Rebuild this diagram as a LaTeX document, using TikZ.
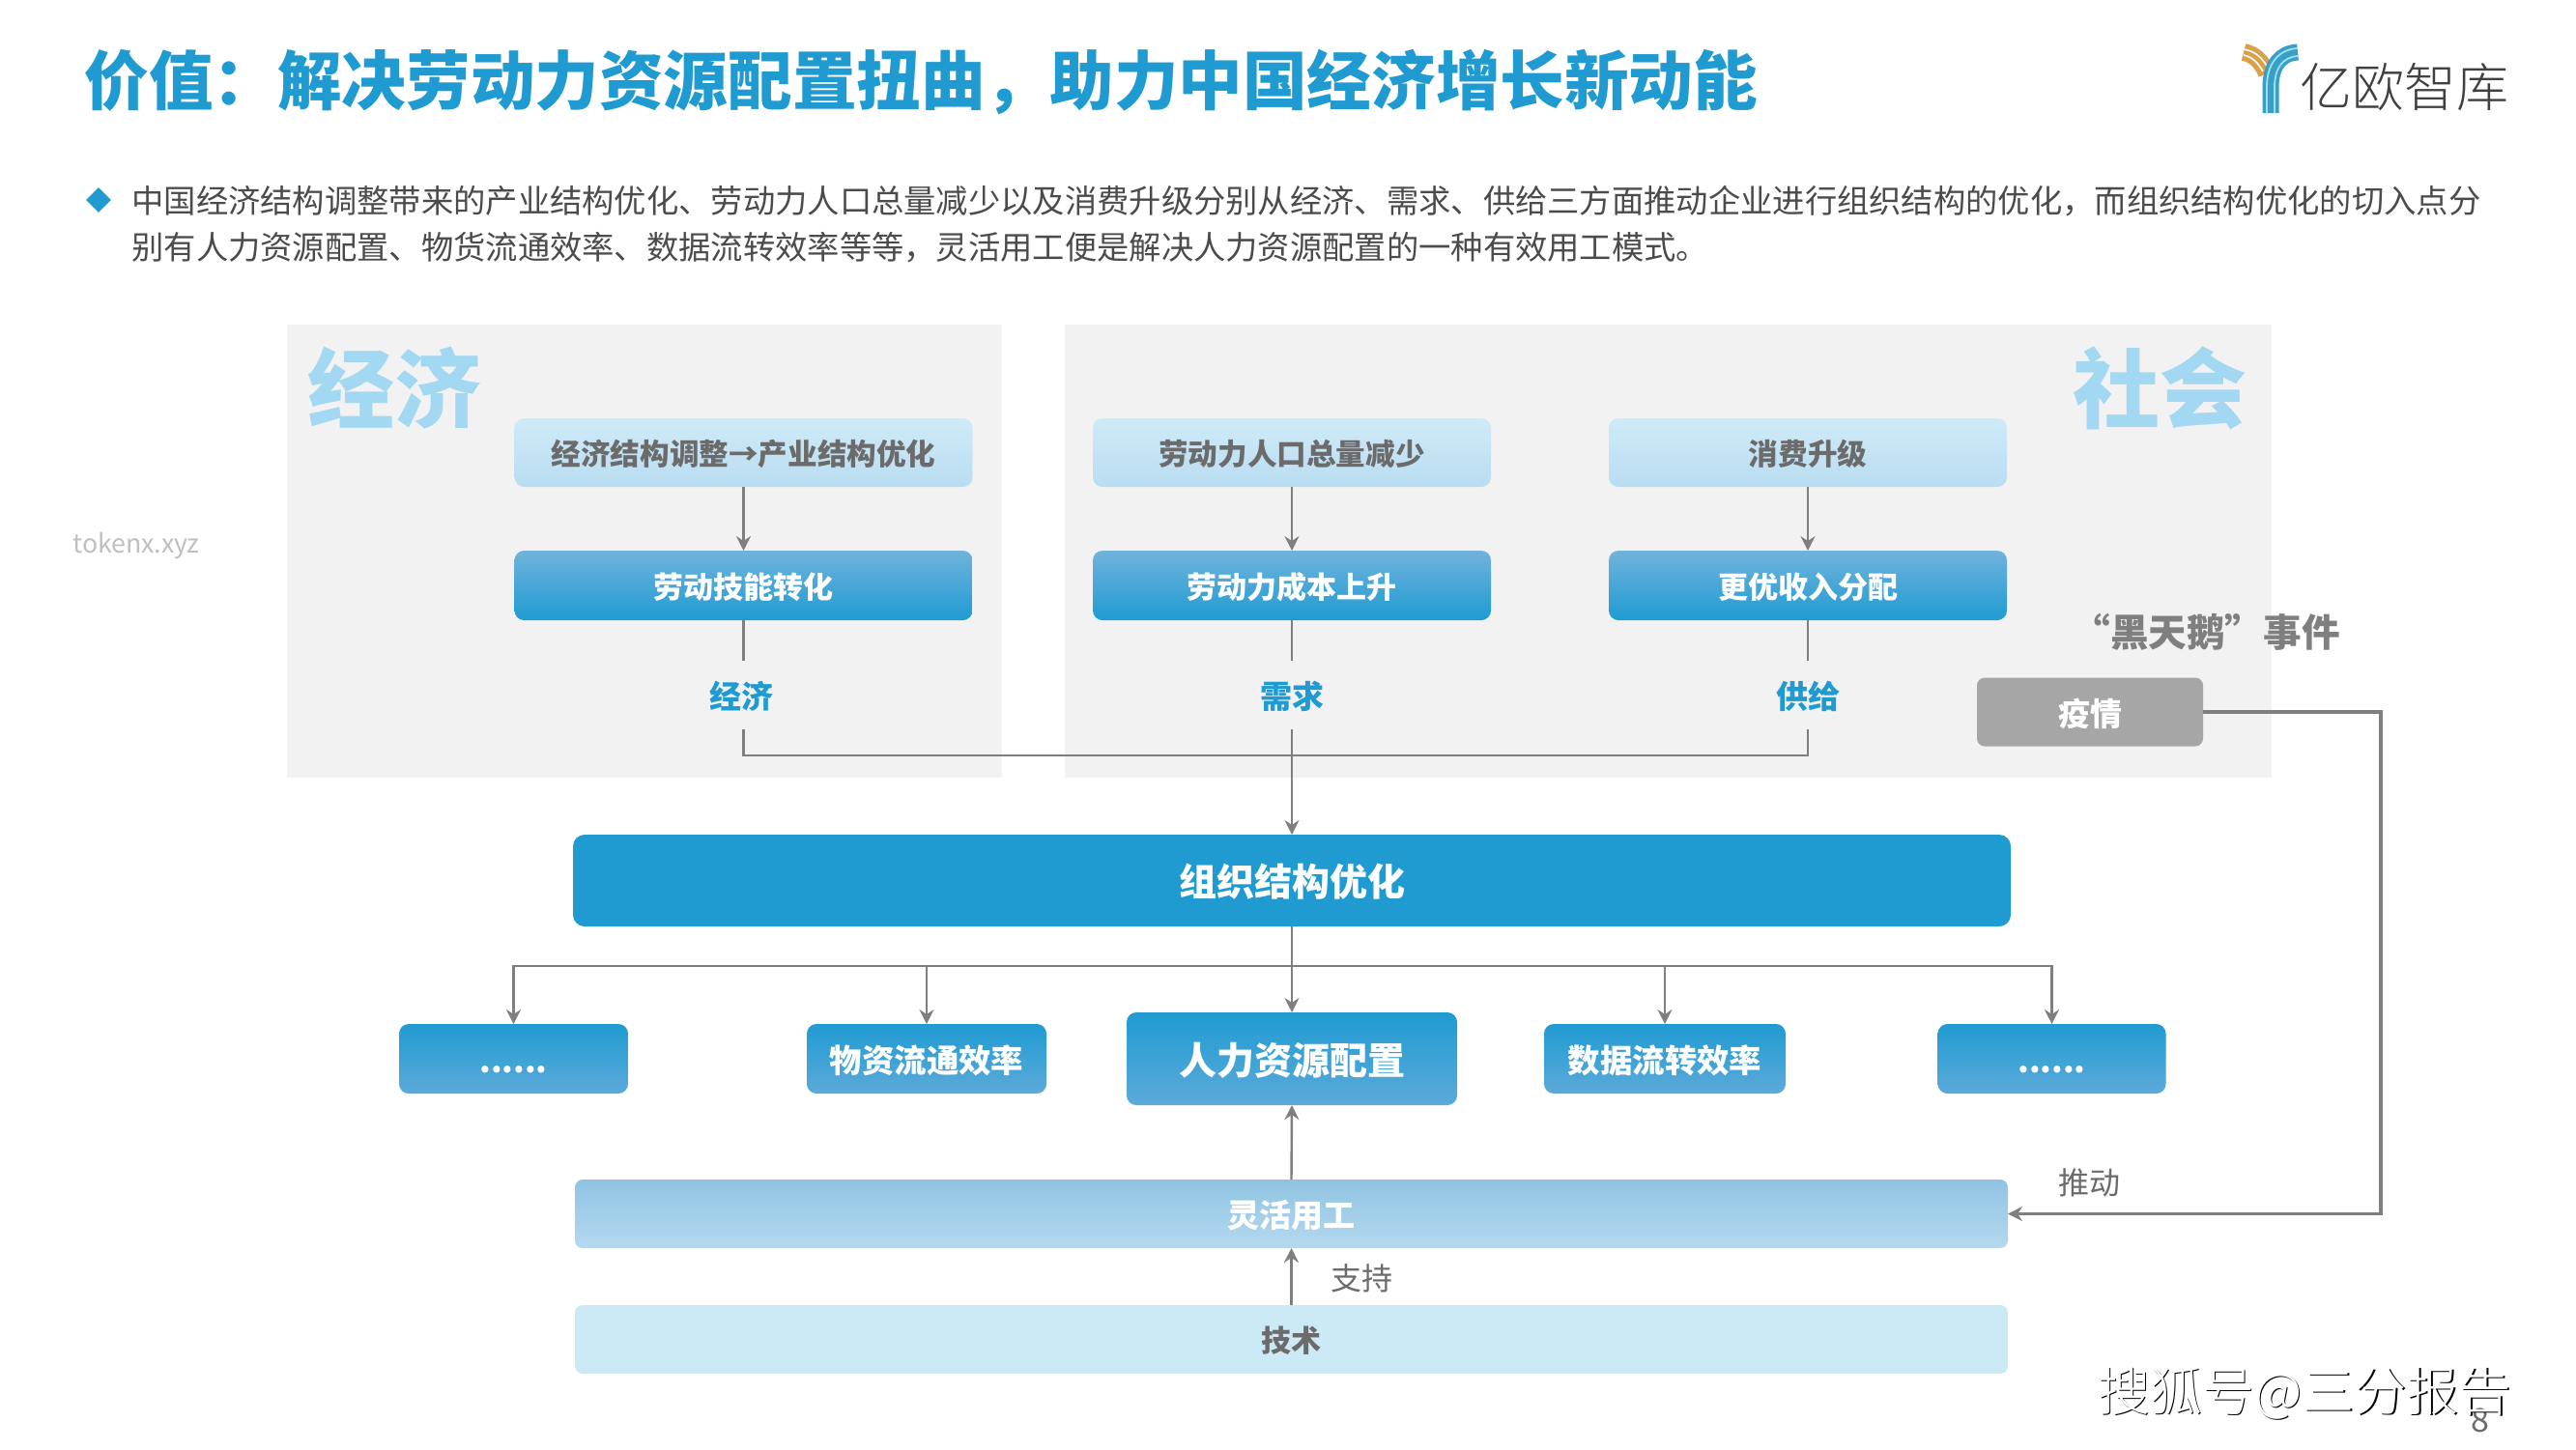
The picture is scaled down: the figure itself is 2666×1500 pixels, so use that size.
\documentclass[tikz,border=0pt]{standalone}
\usepackage{fontspec}
\setmainfont{Noto Sans CJK SC}
\newfontfamily\lightcjk{Noto Sans CJK SC Light}
\usetikzlibrary{arrows.meta,shapes.geometric}
\definecolor{brand}{HTML}{1F9BD2}
\definecolor{txtgray}{HTML}{6B6B6B}
\definecolor{linegray}{HTML}{7F7F7F}
\definecolor{panelgray}{HTML}{F2F2F2}
\definecolor{bigblue}{HTML}{A3D8F2}
\definecolor{CFEAF7}{HTML}{CFEAF7}
\definecolor{B9DDF1}{HTML}{B9DDF1}
\definecolor{70B3DC}{HTML}{70B3DC}
\definecolor{1F9BD2}{HTML}{1F9BD2}
\definecolor{5CAAD9}{HTML}{5CAAD9}
\definecolor{A6A6A6}{HTML}{A6A6A6}
\definecolor{90C3E2}{HTML}{90C3E2}
\definecolor{B4D9EF}{HTML}{B4D9EF}
\definecolor{CCE9F6}{HTML}{CCE9F6}
\definecolor{logoblue}{HTML}{3A9FC6}
\definecolor{logocyan}{HTML}{9BE0F2}
\definecolor{logoorange}{HTML}{DDA04A}
\tikzset{
  x=0.5pt,y=-0.5pt,
  base/.style={inner sep=0pt,outer sep=0pt,align=center,font=\bfseries},
  sz/.style 2 args={minimum width=#1*0.5pt,minimum height=#2*0.5pt},
  fs/.style={font=\fontsize{#1}{#1}\selectfont\bfseries,text height=#1*0.86pt+1.6pt,text depth=#1*0.1pt},
  lightbox/.style={base,rounded corners=5pt,top color=CFEAF7,bottom color=B9DDF1,text=txtgray,fs=15.3},
  midbox/.style={base,rounded corners=5pt,top color=70B3DC,bottom color=1F9BD2,text=white,fs=15.5},
  rowbox/.style={base,rounded corners=5pt,top color=1F9BD2,bottom color=5CAAD9,text=white,fs=16.7},
  orgbox/.style={base,rounded corners=6pt,fill=brand,text=white,fs=19.5},
  swanbox/.style={base,rounded corners=4pt,fill=A6A6A6,text=white,fs=16.5},
  flexbox/.style={base,rounded corners=4pt,top color=90C3E2,bottom color=B4D9EF,text=white,fs=16.5},
  techbox/.style={base,rounded corners=4pt,fill=CCE9F6,text=txtgray,fs=15.5},
  cat/.style={base,text=brand,fs=16.5},
  bigword/.style={base,text=bigblue,fs=45},
  conn/.style={draw=linegray,line width=1.2pt},
  arr/.style={conn,-{Stealth[length=7.5pt,width=7.5pt,inset=2.5pt]}},
  note/.style={inner sep=0pt,text=txtgray,font=\fontsize{16}{16}\selectfont},
  bodyline/.style={inner sep=0pt,anchor=west,text=txtgray!70!black,font=\fontsize{16.65}{16.65}\selectfont},
}
\begin{document}
\begin{tikzpicture}
\useasboundingbox (0,0) rectangle (2666,1500);
\fill[white] (0,0) rectangle (2666,1500);
% panels
\fill[panelgray] (297,336) rectangle (1037,805);
\fill[panelgray] (1102,336) rectangle (2351,805);
% title and intro
\node[inner sep=0pt,anchor=west,text=brand,font=\fontsize{33.3}{33.3}\selectfont\bfseries] (title) at (87,85) {价值：解决劳动力资源配置扭曲，助力中国经济增长新动能};
\node[diamond,fill=brand,inner sep=0pt,minimum width=13pt,minimum height=13pt] (bullet) at (102,207) {};
\node[bodyline] (l1) at (136,208) {中国经济结构调整带来的产业结构优化、劳动力人口总量减少以及消费升级分别从经济、需求、供给三方面推动企业进行组织结构的优化，而组织结构优化的切入点分};
\node[bodyline] (l2) at (136,256) {别有人力资源配置、物货流通效率、数据流转效率等等，灵活用工便是解决人力资源配置的一种有效用工模式。};
% logo
\draw[logoorange,line width=9pt] (2322,54) .. controls (2332,56) and (2340,62) .. (2346,76);
\draw[white,line width=0.8pt] (2322,51) .. controls (2334,53) and (2342,60) .. (2348,72);
\draw[white,line width=0.8pt] (2322,57) .. controls (2331,59) and (2337,65) .. (2342,74);
\draw[logoblue,line width=8.5pt] (2378,54) .. controls (2360,55) and (2350,68) .. (2350,90) -- (2350,117);
\draw[logocyan,line width=0.9pt] (2378,50) .. controls (2358,51) and (2346,66) .. (2346,90) -- (2346,117);
\draw[logocyan,line width=0.9pt] (2378,58) .. controls (2363,59) and (2354,70) .. (2354,90) -- (2354,117);
\node[inner sep=0pt,text=black!75,font=\lightcjk\fontsize{27}{27}\selectfont] (logotext) at (2488,90) {亿欧智库};
\node[inner sep=0pt,text=black!25,font=\fontsize{13.4}{13.4}\selectfont] (mark) at (141,565) {tokenx.xyz};
% big words
\node[bigword] (bigL) at (408,401) {经济};
\node[bigword] (bigR) at (2235,401) {社会};
% upper boxes
\node[lightbox,sz={474}{71}] (a1) at (769.5,468.5) {经济结构调整→产业结构优化};
\node[lightbox,sz={412}{71}] (b1) at (1337,468.5) {劳动力人口总量减少};
\node[lightbox,sz={412}{71}] (c1) at (1871,468.5) {消费升级};
\node[midbox,sz={474}{72}] (a2) at (769.5,606) {劳动技能转化};
\node[midbox,sz={412}{72}] (b2) at (1337,606) {劳动力成本上升};
\node[midbox,sz={412}{72}] (c2) at (1871,606) {更优收入分配};
\node[cat] (a3) at (767,719) {经济};
\node[cat] (b3) at (1337,719) {需求};
\node[cat] (c3) at (1871,719) {供给};
% black swan
\node[base,text=linegray,fs=19.8] (swanlabel) at (2283,653) {“黑天鹅”事件};
\node[swanbox,sz={234}{71}] (swan) at (2163,737) {疫情};
% organisation
\node[orgbox,sz={1488}{95}] (org) at (1337,911.5) {组织结构优化};
% row
\node[rowbox,sz={237}{72}] (r1) at (531.5,1096) {......};
\node[rowbox,sz={248}{72}] (r2) at (959,1096) {物资流通效率};
\node[rowbox,sz={342}{96},fs=19.5] (r3) at (1337,1096) {人力资源配置};
\node[rowbox,sz={250}{72}] (r4) at (1723,1096) {数据流转效率};
\node[rowbox,sz={236}{72}] (r5) at (2123.5,1096) {......};
% foundation
\node[flexbox,sz={1483}{71}] (flex) at (1336.5,1256.5) {灵活用工};
\node[techbox,sz={1483}{71}] (tech) at (1336.5,1386.5) {技术};
\node[note] (support) at (1409,1323) {支持};
\node[note] (push) at (2162,1224) {推动};
% free ends of connectors
\coordinate (a4) at (769.5,684);
\coordinate (b4) at (1337,684);
\coordinate (c4) at (1871,684);
\coordinate (a5) at (769.5,755);
\coordinate (b5) at (1337,755);
\coordinate (c5) at (1871,755);
\coordinate (busY) at (1337,782);
\coordinate (rowY) at (1337,1000);
\coordinate (turn) at (2464,737);
% connectors
\draw[arr] (a1.south) -- (a2.north);
\draw[arr] (b1.south) -- (b2.north);
\draw[arr] (c1.south) -- (c2.north);
\draw[conn] (a2.south) -- (a4);
\draw[conn] (b2.south) -- (b4);
\draw[conn] (c2.south) -- (c4);
\draw[conn] (a5) |- (busY) -| (c5);
\draw[arr] (b5) -- (org.north);
\draw[conn] (org.south) -- (rowY);
\draw[arr] (rowY) -| (r1.north);
\draw[arr] (rowY) -| (r2.north);
\draw[arr] (rowY) -- (r3.north);
\draw[arr] (rowY) -| (r4.north);
\draw[arr] (rowY) -| (r5.north);
\draw[arr] (flex.north) -- (r3.south);
\draw[arr] (tech.north) -- (flex.south);
\draw[arr,line width=1.7pt] (swan.east) -- (turn) |- (flex.east);
% page number and watermark
\node[inner sep=0pt,text=txtgray,font=\fontsize{17}{17}\selectfont] (pageno) at (2567,1470) {8};
\node[inner sep=0pt,text=black,font=\lightcjk\fontsize{27}{27}\selectfont] (wmshadow) at (2386.5,1443.5) {搜狐号@三分报告};
\node[inner sep=0pt,text=white,font=\lightcjk\fontsize{27}{27}\selectfont] (wm) at (2385,1442) {搜狐号@三分报告};
\end{tikzpicture}
\end{document}
